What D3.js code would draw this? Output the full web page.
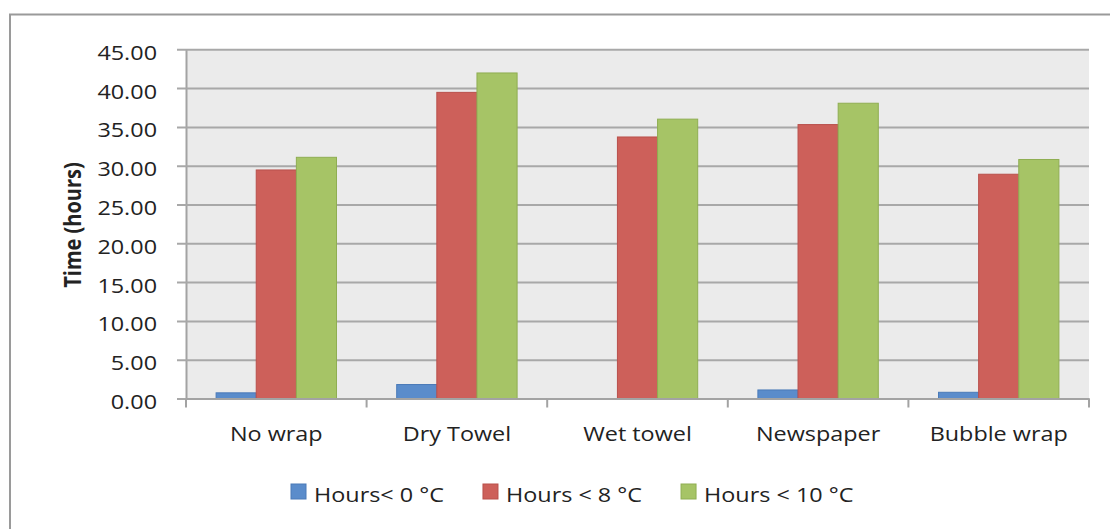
<!DOCTYPE html>
<html>
<head>
<meta charset="utf-8">
<script src="https://cdn.jsdelivr.net/npm/d3@7"></script>
<style>
  html, body { margin: 0; padding: 0; background: #ffffff; }
  svg { display: block; }
  text { font-family: "Open Sans", "Noto Sans", sans-serif; fill: #222222; }
</style>
</head>
<body>
<svg id="chart" width="1110" height="529"></svg>
<script>
// Wrapping materials tested
const categories = ["No wrap", "Dry Towel", "Wet towel", "Newspaper", "Bubble wrap"];
// Series names as shown in the legend
const seriesNames = ["Hours< 0 °C", "Hours < 8 °C", "Hours < 10 °C"];
// Hours spent below each temperature, one value per material
const below0 = [0.73, 1.80, 0.00, 1.10, 0.80];
const below8 = [29.45, 39.45, 33.70, 35.30, 28.90];
const below10 = [31.08, 41.95, 36.00, 38.05, 30.80];
// Value axis ticks
const yTicks = [0, 5, 10, 15, 20, 25, 30, 35, 40, 45];

const seriesValues = [below0, below8, below10];
const fills = ["#5a8ccb", "#cd605a", "#a6c466"];
const strokes = ["#4a7ab8", "#b9504b", "#8fae52"];

const FONT = 20;      // label font size
const WIDEN = 1.17;   // horizontal widening of label glyphs
const TEXT = "#222222";

const svg = d3.select("#chart");
const plot = { left: 186, right: 1089, top: 49.3, bottom: 398.5 };

// outer chart frame (left and top edges visible)
svg.append("path")
  .attr("d", "M10,529 L10,14.5 L1110,14.5")
  .attr("fill", "none")
  .attr("stroke", "#9a9a9a")
  .attr("stroke-width", 2);

const x = d3.scaleBand()
  .domain(categories)
  .range([plot.left, plot.right])
  .paddingInner(0)
  .paddingOuter(0);

// three bars per group, with a 150% gap split evenly on both sides
const x1 = d3.scaleBand()
  .domain(d3.range(seriesNames.length))
  .range([0, x.bandwidth()])
  .paddingOuter(0.75)
  .paddingInner(0);

const y = d3.scaleLinear()
  .domain([0, 45])
  .range([plot.bottom, plot.top]);

// plot area background
svg.append("rect")
  .attr("x", plot.left).attr("y", plot.top)
  .attr("width", plot.right - plot.left)
  .attr("height", plot.bottom - plot.top)
  .attr("fill", "#ebebeb");

// horizontal gridlines with tick marks, via the y axis
const yAxis = svg.append("g")
  .attr("transform", `translate(${plot.left},0)`)
  .call(d3.axisLeft(y)
    .tickValues(yTicks)
    .tickFormat(d3.format(".2f"))
    .tickSizeInner(-(plot.right - plot.left))
    .tickSizeOuter(0)
    .tickPadding(25));
yAxis.select(".domain").attr("stroke", "#a3a3a3").attr("stroke-width", 2);
yAxis.selectAll(".tick line")
  .attr("stroke", "#a8a8a8")
  .attr("stroke-width", 2)
  .attr("x1", -9);
yAxis.selectAll(".tick text")
  .attr("font-size", FONT)
  .attr("fill", TEXT)
  .attr("font-family", "'Open Sans', sans-serif")
  .attr("x", -29 / WIDEN)
  .attr("dy", "0.5em")
  .attr("transform", `scale(${WIDEN},1)`);

// bars
const groups = svg.append("g")
  .selectAll("g")
  .data(categories)
  .join("g")
  .attr("transform", d => `translate(${x(d)},0)`);

groups.selectAll("rect")
  .data((d, i) => seriesValues.map((vals, s) => ({ s, v: vals[i] })))
  .join("rect")
  .attr("x", d => x1(d.s))
  .attr("width", x1.bandwidth())
  .attr("y", d => y(d.v))
  .attr("height", d => plot.bottom - y(d.v))
  .attr("fill", d => fills[d.s])
  .attr("stroke", d => d.v > 0 ? strokes[d.s] : "none")
  .attr("stroke-width", 1);

// category axis
const xAxis = svg.append("g")
  .attr("transform", `translate(0,${plot.bottom})`)
  .call(d3.axisBottom(x).tickSize(0).tickPadding(28));
xAxis.select(".domain").attr("stroke", "#a3a3a3").attr("stroke-width", 2);
xAxis.selectAll(".tick text")
  .attr("font-size", FONT)
  .attr("fill", TEXT)
  .attr("font-family", "'Open Sans', sans-serif")
  .attr("transform", `scale(${WIDEN},1)`);

// category separators below the axis
svg.append("g")
  .selectAll("line")
  .data(categories.map(c => x(c)).concat([plot.right]))
  .join("line")
  .attr("x1", d => d).attr("x2", d => d)
  .attr("y1", plot.bottom).attr("y2", plot.bottom + 9)
  .attr("stroke", "#a3a3a3")
  .attr("stroke-width", 2);

// value axis title
svg.append("text")
  .attr("transform", `translate(72,225) scale(${WIDEN},1) rotate(-90)`)
  .attr("text-anchor", "middle")
  .attr("dominant-baseline", "central")
  .attr("font-size", 20)
  .attr("font-weight", "bold")
  .attr("fill", "#1a1a1a")
  .text("Time (hours)");

// legend
const legend = svg.append("g").attr("transform", "translate(291,492)");
let lx = 0;
seriesNames.forEach((name, s) => {
  const item = legend.append("g").attr("transform", `translate(${lx},0)`);
  item.append("rect")
    .attr("x", 0).attr("y", -8)
    .attr("width", 15).attr("height", 15)
    .attr("fill", fills[s])
    .attr("stroke", strokes[s]);
  const t = item.append("text")
    .attr("transform", `translate(23,9.5) scale(${WIDEN},1)`)
    .attr("font-size", FONT)
    .attr("fill", TEXT)
    .text(name);
  lx += 23 + t.node().getComputedTextLength() * WIDEN + 39;
});
</script>
</body>
</html>
